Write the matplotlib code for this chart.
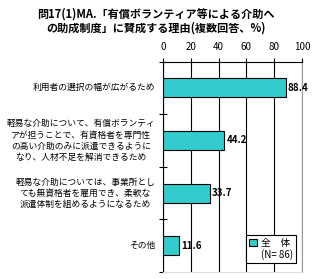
import matplotlib
matplotlib.use("Agg")
import matplotlib.pyplot as plt
from matplotlib.patches import Patch

plt.rcParams['font.family'] = ['Noto Sans CJK JP', 'DejaVu Sans']

labels = [
    "利用者の選択の幅が広がるため",
    "軽易な介助について、有償ボランティ\nアが担うことで、有資格者を専門性\nの高い介助のみに派遣できるように\nなり、人材不足を解消できるため",
    "軽易な介助については、事業所とし\nても無資格者を雇用でき、柔軟な\n派遣体制を組めるようになるため",
    "その他",
]
values = [88.4, 44.2, 33.7, 11.6]
xticks = [0, 20, 40, 60, 80, 100]
bar_color = "#33CCCC"

fig = plt.figure(figsize=(3.12, 2.79), dpi=100)
ax = fig.add_axes([163 / 312, 1 - 272 / 279, 139 / 312, 210.5 / 279])

pos = list(range(len(values)))
bars = ax.barh(pos, values, height=0.36, color=bar_color, edgecolor="black",
               linewidth=0.8, zorder=3, label="全　体")
ax.set_ylim(len(values) - 0.5, -0.5)
ax.set_xlim(0, 100)

for p, v in zip(pos, values):
    ax.text(v + 1.5, p, f"{v:.1f}", va="center", ha="left", fontsize=7,
            fontweight="bold", zorder=4)

# category labels, right aligned just left of the axis
for p, lab in zip(pos, labels):
    ax.text(-0.055, p, lab, ha="right", va="center", multialignment="center",
            fontsize=6.3, linespacing=1.3, transform=ax.get_yaxis_transform())
ax.set_yticks([i + 0.5 for i in range(-1, len(values))])
ax.set_yticklabels([])
ax.tick_params(axis="y", direction="inout", length=6, width=0.8)

ax.xaxis.tick_top()
ax.set_xticks(xticks)
ax.set_xticklabels([str(t) for t in xticks], fontsize=7)
ax.tick_params(axis="x", direction="out", length=3, width=0.8, pad=4)
ax.grid(axis="x", color="black", linewidth=0.8, zorder=1)

ax.spines["left"].set_color("black")
ax.spines["top"].set_color("black")
ax.spines["right"].set_color("#999999")
ax.spines["bottom"].set_color("#dddddd")
for s in ax.spines.values():
    s.set_linewidth(0.8)

handles = [bars, Patch(facecolor="none", edgecolor="none")]
leg = ax.legend(handles, ["全　体", "(N= 86)"], loc="lower right",
                bbox_to_anchor=(0.99, 0.02), fontsize=7, frameon=True,
                fancybox=False, edgecolor="black", framealpha=1,
                handlelength=0.8, handleheight=0.8, handletextpad=0.4,
                labelspacing=0.1, borderpad=0.3)
leg.get_frame().set_linewidth(0.8)
leg.set_zorder(5)

fig.text(0.5, 1 - 21 / 279,
         "問17(1)MA.「有償ボランティア等による介助へ\nの助成制度」に賛成する理由(複数回答、%)",
         ha="center", va="center", fontsize=8, fontweight="bold",
         linespacing=1.15)

fig.savefig("out.png", dpi=100)
